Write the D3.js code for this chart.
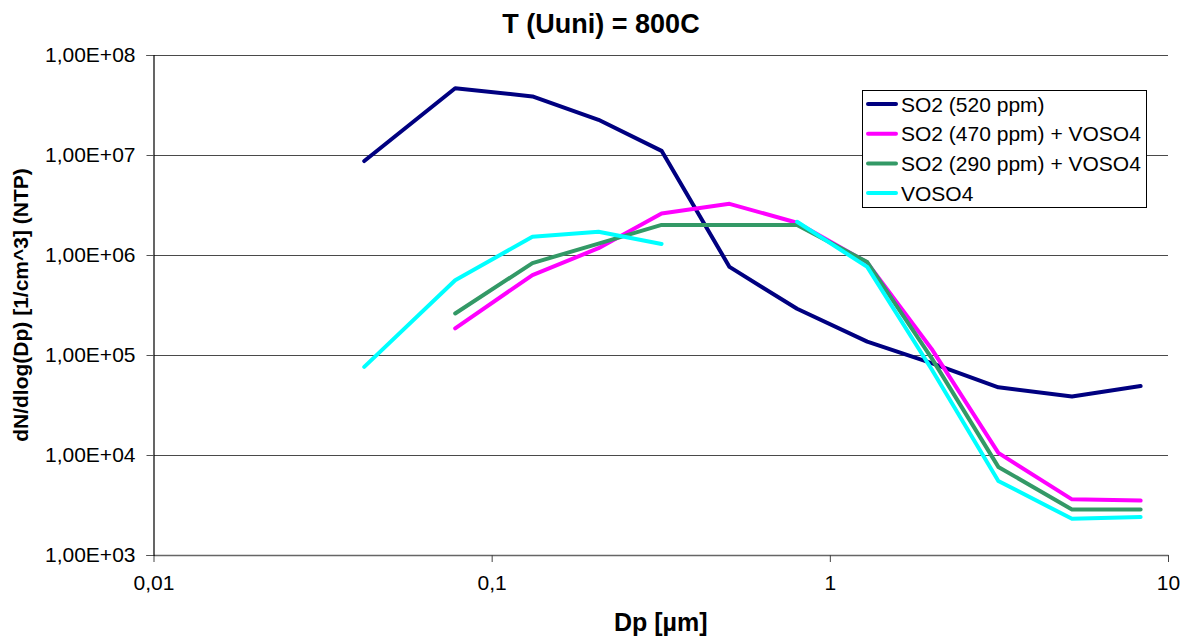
<!DOCTYPE html>
<html>
<head>
<meta charset="utf-8">
<script src="https://cdn.jsdelivr.net/npm/d3@7"></script>
<style>
  html, body { margin: 0; padding: 0; background: #fff; }
  svg { display: block; font-family: Arial, "Liberation Sans", sans-serif; }
</style>
</head>
<body>
<svg id="chart" width="1182" height="637"></svg>
<script>
// Particle size classes (µm)
const diameters = [0.042, 0.078, 0.132, 0.207, 0.318, 0.505, 0.80, 1.29, 2.0, 3.15, 5.2, 8.3];

// Number size distributions dN/dlog(Dp) [1/cm^3] (NTP); null = no value
const so2_520 = [8.7e6, 4.65e7, 3.85e7, 2.25e7, 1.1e7, 7.6e5, 2.9e5, 1.36e5, 8.3e4, 4.75e4, 3.85e4, 4.9e4];
const so2_470_voso4 = [null, 1.85e5, 6.3e5, 1.17e6, 2.6e6, 3.25e6, 2.1e6, 8.4e5, 1.15e5, 1.05e4, 3.6e3, 3.5e3];
const so2_290_voso4 = [null, 2.6e5, 8.3e5, 1.3e6, 2.0e6, 2.0e6, 2.0e6, 8.5e5, 9.3e4, 7.6e3, 2.85e3, 2.85e3];
const voso4 = [7.6e4, 5.6e5, 1.52e6, 1.71e6, 1.29e6, null, 2.15e6, 7.6e5, 7.2e4, 5.5e3, 2.3e3, 2.4e3];

const seriesNames = ["SO2 (520 ppm)", "SO2 (470 ppm) + VOSO4", "SO2 (290 ppm) + VOSO4", "VOSO4"];
const seriesColors = ["#000080", "#FF00FF", "#339966", "#00FFFF"];

// Axis ticks and labels
const xTicks = [0.01, 0.1, 1, 10];
const xTickLabels = ["0,01", "0,1", "1", "10"];
const yTicks = [1e3, 1e4, 1e5, 1e6, 1e7, 1e8];
const yTickLabels = ["1,00E+03", "1,00E+04", "1,00E+05", "1,00E+06", "1,00E+07", "1,00E+08"];

const titleText = "T (Uuni) = 800C";
const xTitle = "Dp [µm]";
const yTitle = "dN/dlog(Dp) [1/cm^3] (NTP)";

const svg = d3.select("#chart");
const plot = { left: 153.5, right: 1168, top: 55, bottom: 555 };

const x = d3.scaleLog().domain([0.01, 10]).range([plot.left, plot.right]);
const y = d3.scaleLog().domain([1e3, 1e8]).range([plot.bottom, plot.top]);

// Horizontal gridlines
svg.append("g")
  .selectAll("line")
  .data(yTicks.slice(1))
  .join("line")
  .attr("x1", plot.left).attr("x2", plot.right)
  .attr("y1", d => Math.round(y(d)) + 0.5).attr("y2", d => Math.round(y(d)) + 0.5)
  .attr("stroke", "#4a4a4a").attr("stroke-width", 1);

// Y axis
const yAxis = d3.axisLeft(y)
  .tickValues(yTicks)
  .tickFormat((d, i) => yTickLabels[i])
  .tickSize(7)
  .tickPadding(11);
const gy = svg.append("g")
  .attr("transform", `translate(${plot.left},0)`)
  .call(yAxis);
gy.select(".domain").attr("stroke", "#000").attr("stroke-width", 1.2);
gy.selectAll(".tick line").attr("stroke", "#555");
gy.selectAll(".tick text")
  .attr("font-size", 21)
  .attr("font-family", "Arial, 'Liberation Sans', sans-serif")
  .attr("fill", "#000");

// X axis
const xAxis = d3.axisBottom(x)
  .tickValues(xTicks)
  .tickFormat((d, i) => xTickLabels[i])
  .tickSize(7)
  .tickPadding(13)
  .tickSizeOuter(0);
const gx = svg.append("g")
  .attr("transform", `translate(0,${plot.bottom})`)
  .call(xAxis);
gx.select(".domain").attr("stroke", "#666").attr("stroke-width", 1.5);
gx.selectAll(".tick line").attr("stroke", "#444");
gx.selectAll(".tick text")
  .attr("font-size", 21)
  .attr("font-family", "Arial, 'Liberation Sans', sans-serif")
  .attr("fill", "#000");
// keep the left axis line on top of the bottom axis
gy.raise();

// Series lines
const allSeries = [so2_520, so2_470_voso4, so2_290_voso4, voso4];
const line = d3.line()
  .defined(d => d.v != null)
  .x(d => x(d.d))
  .y(d => y(d.v));

const lines = svg.append("g");
allSeries.forEach((vals, i) => {
  const pts = diameters.map((d, k) => ({ d: d, v: vals[k] }));
  lines.append("path")
    .datum(pts)
    .attr("d", line)
    .attr("fill", "none")
    .attr("stroke", seriesColors[i])
    .attr("stroke-width", 4)
    .attr("stroke-linejoin", "round")
    .attr("stroke-linecap", "round");
});

// Legend
const legend = svg.append("g");
legend.append("rect")
  .attr("x", 862.5).attr("y", 90.5)
  .attr("width", 284).attr("height", 117)
  .attr("fill", "#fff").attr("stroke", "#000").attr("stroke-width", 1);
seriesNames.forEach((name, i) => {
  const cy = 104 + i * 29.7;
  legend.append("line")
    .attr("x1", 868).attr("x2", 896)
    .attr("y1", cy).attr("y2", cy)
    .attr("stroke", seriesColors[i]).attr("stroke-width", 4)
    .attr("stroke-linecap", "round");
  legend.append("text")
    .attr("x", 901).attr("y", cy)
    .attr("dy", "0.36em")
    .attr("font-size", 21)
    .attr("fill", "#000")
    .text(name);
});

// Titles
svg.append("text")
  .attr("x", 601).attr("y", 33)
  .attr("text-anchor", "middle")
  .attr("font-size", 27).attr("font-weight", "bold")
  .text(titleText);

svg.append("text")
  .attr("x", (plot.left + plot.right) / 2).attr("y", 631)
  .attr("text-anchor", "middle")
  .attr("font-size", 25).attr("font-weight", "bold")
  .text(xTitle);

svg.append("text")
  .attr("transform", `translate(28,${(plot.top + plot.bottom) / 2}) rotate(-90)`)
  .attr("text-anchor", "middle")
  .attr("font-size", 21).attr("font-weight", "bold")
  .text(yTitle);
</script>
</body>
</html>
